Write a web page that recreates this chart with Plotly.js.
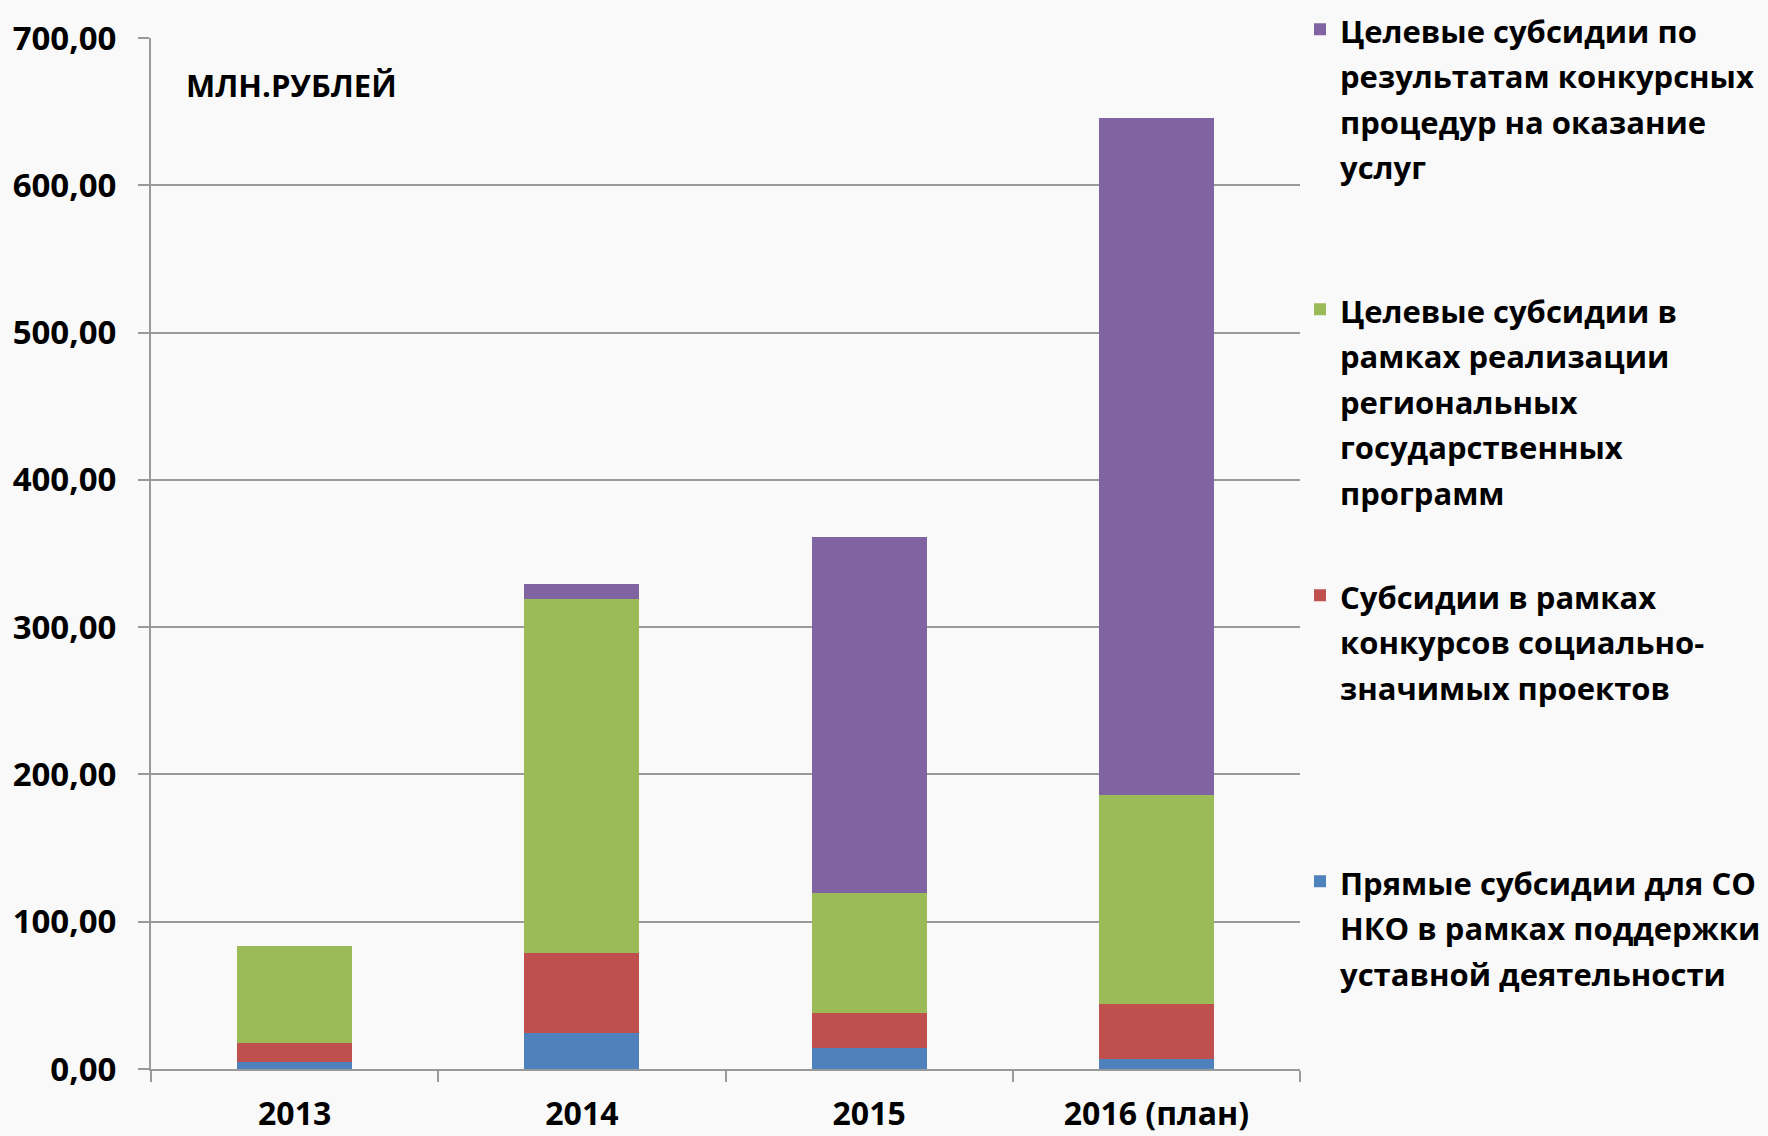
<!DOCTYPE html>
<html>
<head>
<meta charset="utf-8">
<script src="https://cdn.plot.ly/plotly-3.0.1.min.js"></script>
<style>html,body{margin:0;padding:0;background:#f9f9f9;}#chart{width:1768px;height:1136px;}</style>
</head>
<body>
<div id="chart"></div>
<script>
// Data (млн. рублей)
const categories = ["2013", "2014", "2015", "2016 (план)"];
const directSubsidies = [5.0, 24.5, 14.1, 6.8];          // blue
const projectContests = [12.9, 54.6, 23.8, 37.4];        // red
const regionalPrograms = [65.8, 239.7, 81.8, 141.5];     // green
const serviceProcedures = [0.0, 10.3, 241.8, 459.9];     // purple

const seriesLines = [
  ["Прямые субсидии для СО", "НКО в рамках поддержки", "уставной деятельности"],
  ["Субсидии в рамках", "конкурсов социально-", "значимых проектов"],
  ["Целевые субсидии в", "рамках реализации", "региональных", "государственных", "программ"],
  ["Целевые субсидии по", "результатам конкурсных", "процедур на оказание", "услуг"]
];
const yTickVals = [0, 100, 200, 300, 400, 500, 600, 700];
const unitLabel = "МЛН.РУБЛЕЙ";

const colors = ["#4F81BD", "#C0504D", "#9BBB59", "#8064A2"];
const seriesValues = [directSubsidies, projectContests, regionalPrograms, serviceProcedures];
const legendIds = ["legend4", "legend3", "legend2", "legend"];

const FONT = "'Open Sans', 'Noto Sans', sans-serif";
const GLYPH = 31;   // visible legend glyph size
const LINEBASE = 35; // base size -> line spacing

const traces = seriesValues.map((vals, i) => ({
  type: "bar",
  x: categories,
  y: vals,
  name: seriesLines[i].map(s => '<span style="font-size:' + GLYPH + 'px">' + s + '</span>').join("<br>"),
  marker: { color: colors[i], line: { width: 0 } },
  legend: legendIds[i],
  hoverinfo: "x+y"
}));

const PLOT_TOP = 38, PLOT_H = 1136 - 38 - 67;
function legendAt(topPx) {
  return {
    xref: "container", yref: "paper",
    x: 1300 / 1768, xanchor: "left",
    y: 1 + (PLOT_TOP - topPx) / PLOT_H, yanchor: "top",
    bgcolor: "rgba(0,0,0,0)",
    borderwidth: 0,
    valign: "top",
    font: { family: FONT, size: LINEBASE, color: "#000", weight: 700 }
  };
}

const layout = {
  width: 1768,
  height: 1136,
  paper_bgcolor: "#f9f9f9",
  plot_bgcolor: "#f9f9f9",
  margin: { l: 151, r: 468, t: 38, b: 67, pad: 0 },
  barmode: "stack",
  bargap: 0.6,
  separators: ", ",
  showlegend: true,
  legend: legendAt(-11),
  legend2: legendAt(280),
  legend3: legendAt(566),
  legend4: legendAt(852),
  xaxis: {
    type: "category",
    showgrid: false,
    showline: true,
    linecolor: "#999999",
    linewidth: 2,
    ticks: "outside",
    tickson: "boundaries",
    ticklen: 11,
    tickwidth: 2,
    tickcolor: "#999999",
    ticklabelstandoff: 16,
    tickfont: { family: FONT, size: 32, color: "#000", weight: 700 }
  },
  yaxis: {
    range: [0, 700],
    tickvals: yTickVals,
    tickformat: ".2f",
    showgrid: true,
    gridcolor: "#999999",
    gridwidth: 2,
    showline: true,
    linecolor: "#999999",
    linewidth: 2,
    zeroline: false,
    ticks: "outside",
    ticklen: 11,
    tickwidth: 2,
    tickcolor: "#999999",
    ticklabelstandoff: 15,
    tickfont: { family: FONT, size: 33, color: "#000", weight: 700 }
  },
  annotations: [{
    text: unitLabel,
    xref: "paper", yref: "paper",
    x: 0.0287, y: 0.954,
    xanchor: "left", yanchor: "middle",
    showarrow: false,
    font: { family: FONT, size: 31, color: "#000", weight: 700 }
  }]
};

Plotly.newPlot("chart", traces, layout, { displayModeBar: false, staticPlot: true });
</script>
</body>
</html>
